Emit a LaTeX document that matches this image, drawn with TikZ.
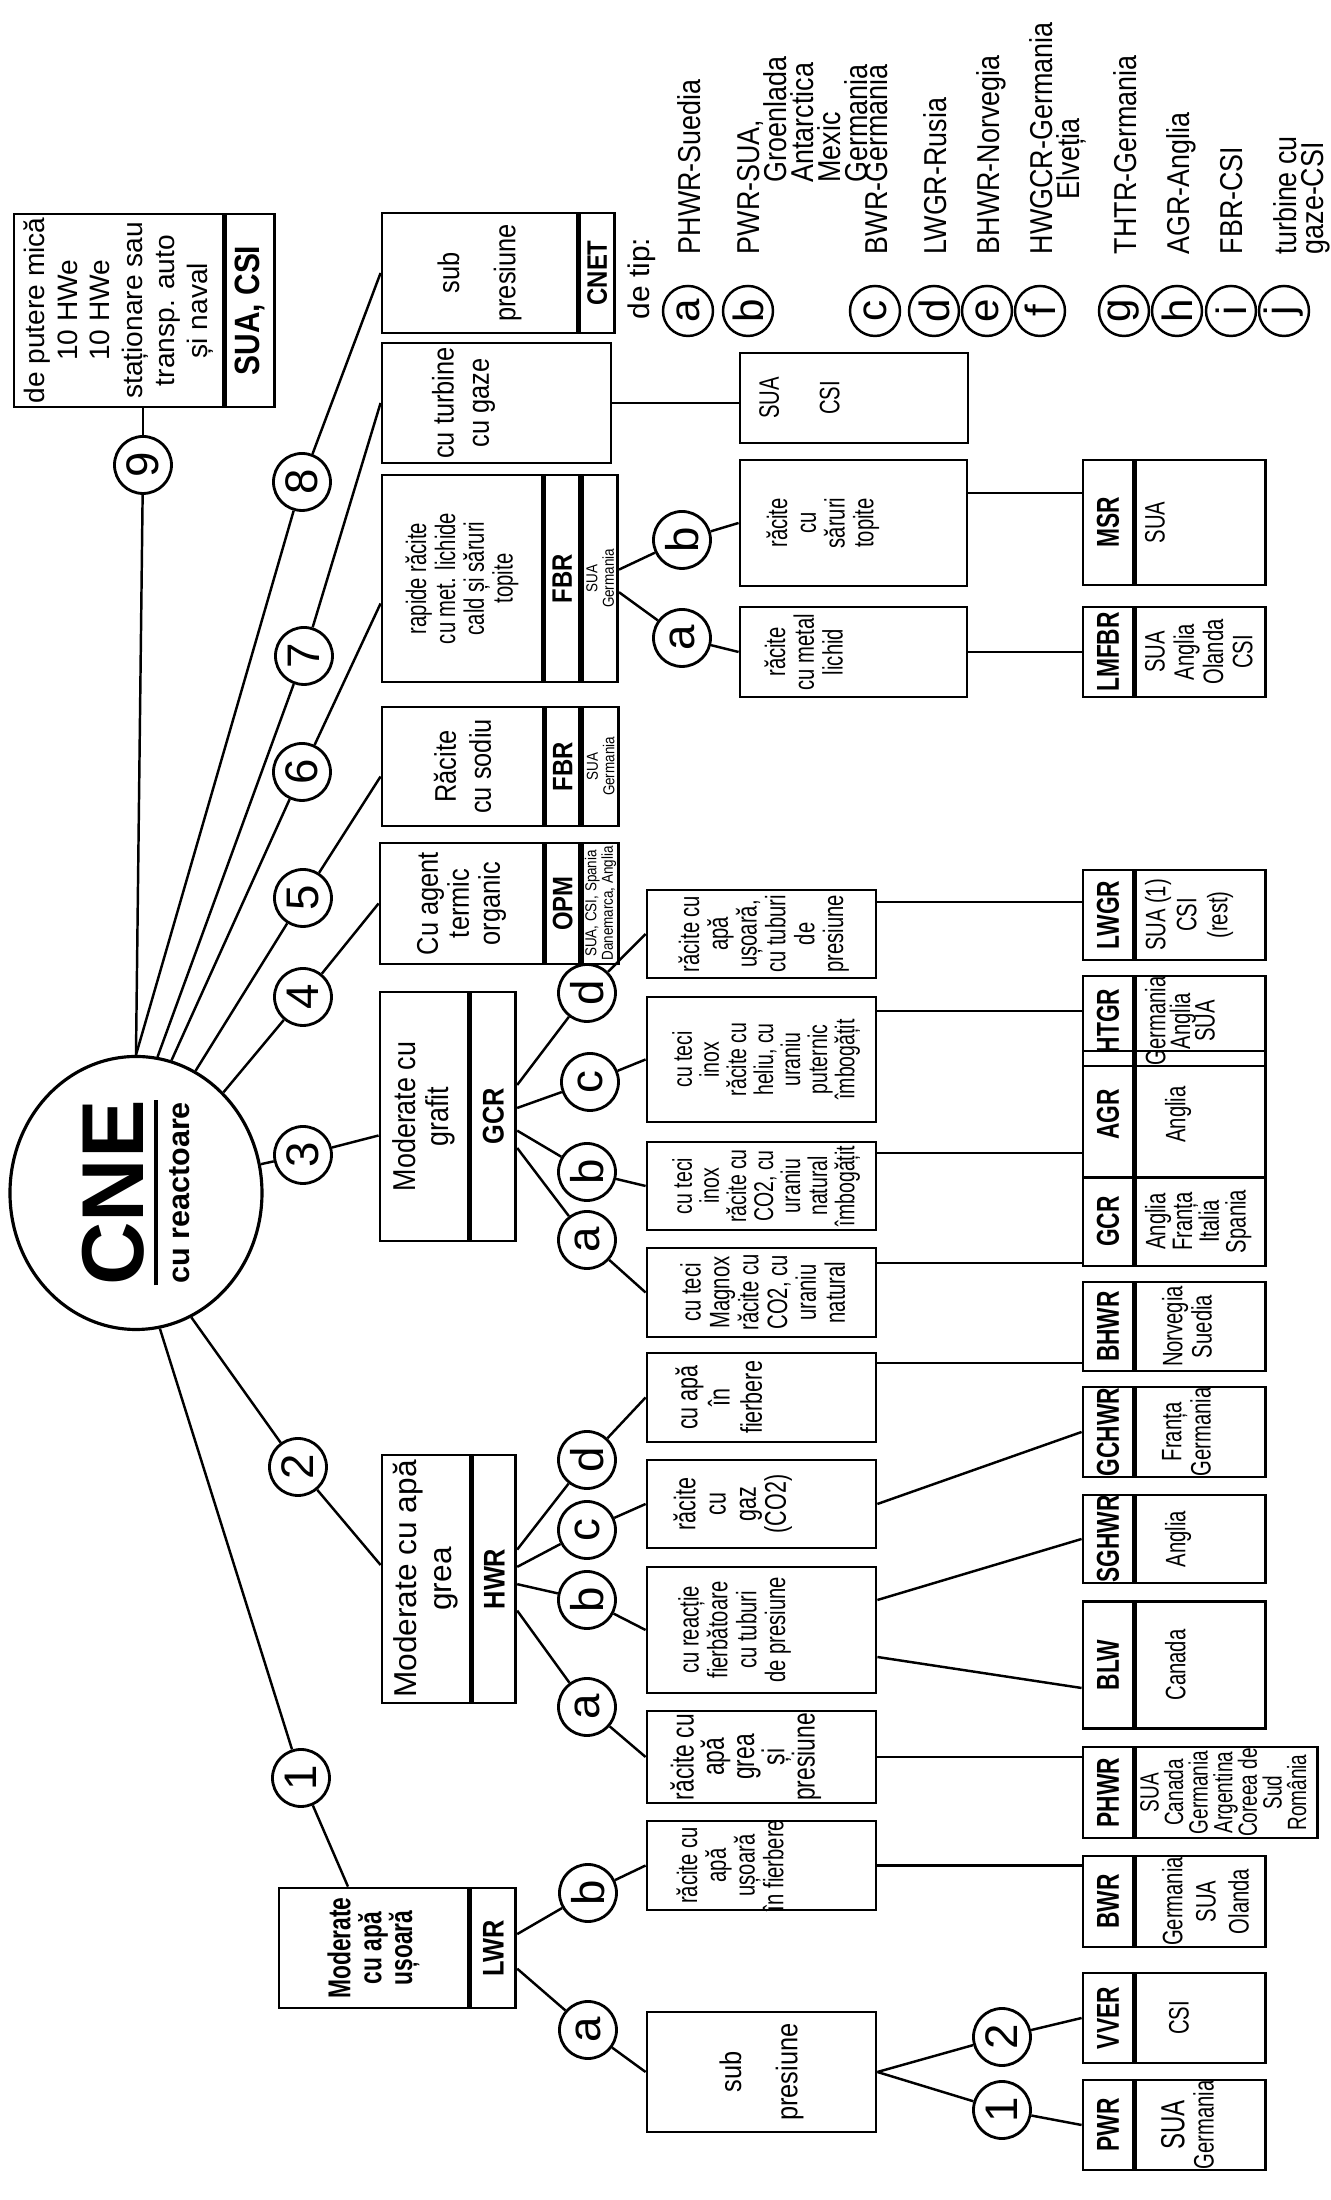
\documentclass[tikz,border=0pt]{standalone}
\usepackage{fontspec}
\setmainfont{Liberation Sans}
\newfontfamily\cnnarrow{Liberation Sans}[FakeStretch=0.85]
\newfontfamily\cnnarrower{Liberation Sans}[FakeStretch=0.72]
\usetikzlibrary{positioning,shapes.geometric,calc}
\lineskiplimit=-10pt
\tikzset{
  hub/.style={ellipse,draw,line width=0.9pt,minimum width=2.73cm,minimum height=2.52cm,
              inner sep=0pt,align=center,font=\fontsize{8.7}{10}\selectfont\bfseries},
  num/.style={circle,draw,line width=0.8pt,minimum size=0.57cm,inner sep=0pt,
              font=\fontsize{13}{13}\selectfont},
  tag/.style={circle,draw,line width=0.7pt,minimum size=0.5cm,inner sep=0pt,
              font=\fontsize{12}{12}\selectfont},
  hdr/.style={draw,line width=0.8pt,align=center,inner sep=0pt,
              font=\fontsize{8.5}{10}\selectfont\cnnarrow},
  strip/.style={draw,line width=0.8pt,align=center,inner sep=0pt,
                font=\fontsize{8}{8}\selectfont\cnnarrow\bfseries},
  tinystrip/.style={draw,line width=0.8pt,align=center,inner sep=0pt,
                    font=\fontsize{4.5}{4.7}\selectfont\cnnarrow},
  leaf/.style={draw,line width=0.8pt,minimum height=2.29cm,inner sep=0pt,align=center,
               font=\fontsize{8.5}{10}\selectfont\cnnarrow},
  leaftxt/.style={align=center,inner sep=0pt,font=\fontsize{8}{8.2}\selectfont\cnnarrower},
  kind/.style={draw,line width=0.8pt,minimum height=0.5cm,inner sep=0pt,
               font=\fontsize{9}{9}\selectfont\cnnarrower\bfseries},
  land/.style={draw,line width=0.8pt,minimum height=1.3cm,inner sep=0pt},
  landtxt/.style={align=center,inner sep=0pt,font=\fontsize{8}{8.3}\selectfont\cnnarrower},
  link/.style={line width=0.7pt},
  keytxt/.style={anchor=north west,align=left,inner sep=0pt,
                 font=\fontsize{9}{7.7}\selectfont\cnnarrow}
}
\begin{document}
\begin{tikzpicture}[rotate=90,transform shape]
\useasboundingbox (0,0) rectangle (22,13.3);

% centre of the tree
\node[hub] (cne) at (10.07,11.94) {{\fontsize{25}{25}\selectfont CNE}\\[-6pt]\rule{1.85cm}{1.2pt}\\[-1pt]cu reactoare};

% reactor families
\node[num] (n1) at (4.22,10.29) {1};
\node[num] (n2) at (7.33,10.32) {2};
\node[num] (n3) at (10.45,10.27) {3};
\node[num] (n4) at (12.03,10.27) {4};
\node[num] (n5) at (13.02,10.27) {5};
\node[num] (n6) at (14.28,10.28) {6};
\node[num] (n7) at (15.44,10.26) {7};
\node[num] (n8) at (17.18,10.28) {8};
\node[num] (n9) at (17.35,11.87) {9};

\node[hdr,minimum width=1.2cm,minimum height=1.89cm,font=\fontsize{9}{8.8}\selectfont\cnnarrower\bfseries] (b1) at (2.52,9.565) {Moderate\\cu apă\\ușoară};
\node[strip,minimum width=1.2cm,minimum height=0.45cm,font=\fontsize{8.5}{8.5}\selectfont\cnnarrow\bfseries,below=0pt of b1] (lwr) {LWR};
\node[hdr,minimum width=2.48cm,minimum height=0.88cm,font=\fontsize{9}{10}\selectfont] (b2) at (6.21,9.04) {Moderate cu apă\\grea};
\node[strip,minimum width=2.48cm,minimum height=0.43cm,font=\fontsize{8.5}{8.5}\selectfont\cnnarrow\bfseries,below=0pt of b2] (hwr) {HWR};
\node[hdr,minimum width=2.49cm,minimum height=0.88cm,font=\fontsize{9}{9.4}\selectfont\cnnarrow] (b3) at (10.835,9.06) {Moderate cu\\grafit};
\node[strip,minimum width=2.49cm,minimum height=0.45cm,font=\fontsize{8.5}{8.5}\selectfont\cnnarrow\bfseries,below=0pt of b3] (gcr) {GCR};
\node[hdr,minimum width=1.21cm,minimum height=1.63cm,font=\fontsize{8.5}{8.8}\selectfont\cnnarrow] (b4) at (12.965,8.685) {Cu agent\\termic\\organic};
\node[strip,minimum width=1.21cm,minimum height=0.34cm,below=0pt of b4] (opm) {OPM};
\node[tinystrip,minimum width=1.21cm,minimum height=0.36cm,below=0pt of opm] (b4g) {SUA, CSI, Spania\\Danemarca, Anglia};
\node[hdr,minimum width=1.19cm,minimum height=1.61cm] (b5) at (14.335,8.675) {Răcite\\cu sodiu};
\node[strip,minimum width=1.19cm,minimum height=0.34cm,below=0pt of b5] (fbr5) {FBR};
\node[tinystrip,minimum width=1.19cm,minimum height=0.36cm,below=0pt of fbr5] (b5g) {SUA\\Germania};
\node[hdr,minimum width=2.07cm,minimum height=1.6cm,font=\fontsize{8}{8.2}\selectfont\cnnarrower] (b6) at (16.215,8.68) {rapide răcite\\cu met. lichide\\cald și săruri\\topite};
\node[strip,minimum width=2.07cm,minimum height=0.35cm,below=0pt of b6] (fbr6) {FBR};
\node[tinystrip,minimum width=2.07cm,minimum height=0.35cm,below=0pt of fbr6] (b6g) {SUA\\Germania};
\node[hdr,minimum width=1.2cm,minimum height=2.29cm] (b7) at (17.97,8.335) {};
\node[hdr,draw=none,below=0.5cm of b7.north] (b7t) {cu turbine\\cu gaze};
\node[hdr,minimum width=1.2cm,minimum height=1.95cm] (b8) at (19.27,8.505) {sub\\[6pt]presiune};
\node[strip,minimum width=1.2cm,minimum height=0.35cm,below=0pt of b8] (cnet) {CNET};
\node[hdr,minimum width=1.93cm,minimum height=2.09cm,font=\fontsize{8}{9.25}\selectfont] (b9) at (18.895,12.115) {de putere mică\\10 HWe\\10 HWe\\staționare sau\\transp. auto\\și naval};
\node[strip,minimum width=1.93cm,minimum height=0.49cm,font=\fontsize{10}{10}\selectfont\cnnarrow\bfseries,below=0pt of b9] (b9s) {SUA, CSI};

\draw[link] (cne.east) -- (n9); \draw[link] (n9) -- (b9.west |- n9);
\draw[link] (cne.east) -- (n8); \draw[link] (n8) -- (b8.north);
\draw[link] (cne.-9) -- (n7);   \draw[link] (n7) -- (b7.north);
\coordinate (e6) at ($(b6.north)+(-0.25,0)$);
\draw[link] (cne.-15) -- (n6);  \draw[link] (n6) -- (e6);
\coordinate (e5) at ($(b5.north)+(-0.1,0)$);
\draw[link] (cne.-26) -- (n5);  \draw[link] (n5) -- (e5);
\draw[link] (cne.-41) -- (n4);  \draw[link] (n4) -- (b4.north);
\coordinate (e3) at ($(b3.north)+(-0.19,0)$);
\draw[link] (cne.-77) -- (n3);  \draw[link] (n3) -- (e3);
\coordinate (e2) at ($(b2.north)+(0.14,0)$);
\draw[link] (cne.-156) -- (n2); \draw[link] (n2) -- (e2);
\coordinate (e1) at ($(b1.east)+(0,0.255)$);
\draw[link] (cne.-170) -- (n1); \draw[link] (n1) -- (e1);

% sub-types
\node[num] (la) at (1.70,7.42) {a};
\node[num] (lb) at (3.07,7.42) {b};
\node[num] (ha) at (4.93,7.43) {a};
\node[num] (hb) at (6.00,7.43) {b};
\node[num] (hc) at (6.70,7.43) {c};
\node[num] (hd) at (7.40,7.43) {d};
\node[num] (ga) at (9.60,7.43) {a};
\node[num] (gb) at (10.28,7.43) {b};
\node[num] (gc) at (11.18,7.40) {c};
\node[num] (gd) at (12.07,7.43) {d};
\node[num] (fa) at (15.62,6.48) {a};
\node[num] (fb) at (16.60,6.48) {b};

\node[leaf,minimum width=1.2cm] (b1a) at (1.28,5.685) {sub\\[6pt]presiune};
\node[leaf,minimum width=0.89cm] (b1b) at (3.345,5.685) {};
\node[leaftxt,below=0.3cm of b1b.north] (b1bt) {răcite cu\\apă\\ușoară\\în fierbere};
\node[leaf,minimum width=0.92cm] (b2a) at (4.43,5.685) {};
\node[leaftxt,font=\fontsize{9}{8.6}\selectfont\cnnarrower,below=0.24cm of b2a.north] (b2at) {răcite cu\\apă\\grea\\și\\presiune};
\node[leaf,minimum width=1.26cm] (b2b) at (5.70,5.685) {};
\node[leaftxt,below=0.32cm of b2b.north] (b2bt) {cu reacție\\fierbătoare\\cu tuburi\\de presiune};
\node[leaf,minimum width=0.88cm] (b2c) at (6.96,5.685) {};
\node[leaftxt,font=\fontsize{8.5}{8.6}\selectfont\cnnarrower,below=0.27cm of b2c.north] (b2ct) {răcite\\cu\\gaz\\(CO2)};
\node[leaf,minimum width=0.89cm] (b2d) at (8.025,5.685) {};
\node[leaftxt,font=\fontsize{8.5}{9.2}\selectfont\cnnarrower,below=0.29cm of b2d.north] (b2dt) {cu apă\\în\\fierbere};
\node[leaf,minimum width=0.89cm] (b3a) at (9.075,5.685) {};
\node[leaftxt,below=0.34cm of b3a.north] (b3at) {cu teci\\Magnox\\răcite cu\\CO2, cu\\uraniu\\natural};
\node[leaf,minimum width=0.88cm] (b3b) at (10.14,5.685) {};
\node[leaftxt,font=\fontsize{7.7}{7.7}\selectfont\cnnarrower,below=0.26cm of b3b.north] (b3bt) {cu teci\\inox\\răcite cu\\CO2, cu\\uraniu\\natural\\îmbogățit};
\node[leaf,minimum width=1.25cm] (b3c) at (11.405,5.685) {};
\node[leaftxt,font=\fontsize{7.7}{7.7}\selectfont\cnnarrower,below=0.26cm of b3c.north] (b3ct) {cu teci\\inox\\răcite cu\\heliu, cu\\uraniu\\puternic\\îmbogățit};
\node[leaf,minimum width=0.88cm] (b3d) at (12.66,5.685) {};
\node[leaftxt,below=0.32cm of b3d.north] (b3dt) {răcite cu\\apă\\ușoară,\\cu tuburi\\de\\presiune};
\node[leaf,minimum width=0.9cm,minimum height=2.27cm] (b6a) at (15.48,4.765) {};
\node[leaftxt,below=0.25cm of b6a.north] (b6at) {răcite\\cu metal\\lichid};
\node[leaf,minimum width=1.26cm,minimum height=2.27cm] (b6b) at (16.77,4.765) {};
\node[leaftxt,below=0.27cm of b6b.north] (b6bt) {răcite\\cu\\săruri\\topite};
\node[leaf,minimum width=0.9cm,minimum height=2.28cm] (b7a) at (18.02,4.76) {};
\node[leaftxt,below=0.2cm of b7a.north] (b7at) {SUA\\[9pt]CSI};

\draw[link] (lwr) -- (la); \draw[link] (lwr) -- (lb);
\draw[link] (la) -- (b1a.north); \draw[link] (lb) -- (b1b.north);
\draw[link] (hwr) -- (ha); \draw[link] (hwr) -- (hb); \draw[link] (hwr) -- (hc); \draw[link] (hwr) -- (hd);
\draw[link] (ha) -- (b2a.north); \draw[link] (hb) -- (b2b.north);
\draw[link] (hc) -- (b2c.north); \draw[link] (hd) -- (b2d.north);
\draw[link] (gcr) -- (ga); \draw[link] (gcr) -- (gb); \draw[link] (gcr) -- (gc); \draw[link] (gcr) -- (gd);
\draw[link] (ga) -- (b3a.north); \draw[link] (gb) -- (b3b.north);
\draw[link] (gc) -- (b3c.north); \draw[link] (gd) -- (b3d.north);
\draw[link] (b6g) -- (fa); \draw[link] (b6g) -- (fb);
\draw[link] (fa) -- (b6a.north); \draw[link] (fb) -- (b6b.north);
\draw[link] (b7.south) -- (b7.south |- b7a.north);

% reactor types and countries
\node[num] (m1) at (0.90,3.28) {1};
\node[num] (m2) at (1.63,3.28) {2};

\node[kind,minimum width=0.9cm] (pwr) at (0.75,2.22) {PWR};
\node[land,minimum width=0.9cm,below=0pt of pwr] (pwrc) {};
\node[landtxt,below=0.26cm of pwr.south] (pwrt) {{\fontsize{9.5}{9.5}\selectfont SUA}\\Germania};
\node[kind,minimum width=0.9cm] (vver) at (1.82,2.22) {VVER};
\node[land,minimum width=0.9cm,below=0pt of vver] (vverc) {};
\node[landtxt,below=0.34cm of vver.south] (vvert) {CSI};
\node[kind,minimum width=0.91cm] (bwr) at (2.985,2.22) {BWR};
\node[land,minimum width=0.91cm,below=0pt of bwr] (bwrc) {};
\node[landtxt,font=\fontsize{8}{9.4}\selectfont\cnnarrower,below=0.27cm of bwr.south] (bwrt) {Germania\\SUA\\Olanda};
\node[kind,minimum width=0.91cm] (phwr) at (4.075,2.22) {PHWR};
\node[land,minimum width=0.91cm,minimum height=1.82cm,below=0pt of phwr] (phwrc) {};
\node[landtxt,font=\fontsize{7.5}{7}\selectfont\cnnarrower,below=0.05cm of phwr.south] (phwrt) {SUA\\Canada\\Germania\\Argentina\\Coreea de\\Sud\\România};
\node[kind,minimum width=1.27cm] (blw) at (5.35,2.22) {BLW};
\node[land,minimum width=1.27cm,below=0pt of blw] (blwc) {};
\node[landtxt,below=0.3cm of blw.south] (blwt) {Canada};
\node[kind,minimum width=0.88cm] (sghwr) at (6.61,2.22) {SGHWR};
\node[land,minimum width=0.88cm,below=0pt of sghwr] (sghwrc) {};
\node[landtxt,below=0.3cm of sghwr.south] (sghwrt) {Anglia};
\node[kind,minimum width=0.9cm] (gchwr) at (7.68,2.22) {GCHWR};
\node[land,minimum width=0.9cm,below=0pt of gchwr] (gchwrc) {};
\node[landtxt,below=0.27cm of gchwr.south] (gchwrt) {Franța\\Germania};
\node[kind,minimum width=0.89cm] (bhwr) at (8.735,2.22) {BHWR};
\node[land,minimum width=0.89cm,below=0pt of bhwr] (bhwrc) {};
\node[landtxt,below=0.27cm of bhwr.south] (bhwrt) {Norvegia\\Suedia};
\node[kind,minimum width=0.89cm] (gcrk) at (9.785,2.22) {GCR};
\node[land,minimum width=0.89cm,below=0pt of gcrk] (gcrkc) {};
\node[landtxt,font=\fontsize{8}{7.6}\selectfont\cnnarrower,below=0.1cm of gcrk.south] (gcrkt) {Anglia\\Franța\\Italia\\Spania};
\node[kind,minimum width=1.27cm] (agr) at (10.855,2.22) {AGR};
\node[land,minimum width=1.27cm,below=0pt of agr] (agrc) {};
\node[landtxt,below=0.3cm of agr.south] (agrt) {Anglia};
\node[kind,minimum width=0.9cm] (htgr) at (11.79,2.22) {HTGR};
\node[land,minimum width=0.9cm,below=0pt of htgr] (htgrc) {};
\node[landtxt,font=\fontsize{8}{7}\selectfont\cnnarrower,below=0.1cm of htgr.south] (htgrt) {Germania\\Anglia\\SUA};
\node[kind,minimum width=0.9cm] (lwgr) at (12.85,2.22) {LWGR};
\node[land,minimum width=0.9cm,below=0pt of lwgr] (lwgrc) {};
\node[landtxt,font=\fontsize{8}{8.8}\selectfont\cnnarrower,below=0.1cm of lwgr.south] (lwgrt) {SUA (1)\\CSI\\(rest)};
\node[kind,minimum width=0.9cm] (lmfbr) at (15.48,2.22) {LMFBR};
\node[land,minimum width=0.9cm,below=0pt of lmfbr] (lmfbrc) {};
\node[landtxt,below=0.1cm of lmfbr.south] (lmfbrt) {SUA\\Anglia\\Olanda\\CSI};
\node[kind,minimum width=1.25cm] (msr) at (16.775,2.22) {MSR};
\node[land,minimum width=1.25cm,below=0pt of msr] (msrc) {};
\node[landtxt,below=0.1cm of msr.south] (msrt) {SUA};

\draw[link] (b1a.south) -- (m1); \draw[link] (b1a.south) -- (m2);
\draw[link] (m1) -- (pwr.north); \draw[link] (m2) -- (vver.north);
\draw[link] (b1b.south) -- (b1b.south |- bwr.north);
\draw[link] (b2a.south) -- (b2a.south |- phwr.north);
\coordinate (s1) at ($(b2b.south)+(-0.27,0)$);
\coordinate (t1) at ($(blw.north)+(-0.23,0)$);
\draw[link] (s1) -- (t1);
\coordinate (s2) at ($(b2b.south)+(0.30,0)$);
\draw[link] (s2) -- (sghwr.north);
\draw[link] (b2c.south) -- (gchwr.north);
\coordinate (s3) at ($(b2d.south)+(0.345,0)$);
\draw[link] (s3) -- (s3 |- bhwr.north);
\coordinate (s4) at ($(b3a.south)+(0.295,0)$);
\draw[link] (s4) -- (s4 |- gcrk.north);
\coordinate (s5) at ($(b3b.south)+(0.33,0)$);
\draw[link] (s5) -- (s5 |- agr.north);
\coordinate (s6) at ($(b3c.south)+(0.485,0)$);
\draw[link] (s6) -- (s6 |- htgr.north);
\coordinate (s7) at ($(b3d.south)+(0.32,0)$);
\draw[link] (s7) -- (s7 |- lwgr.north);
\draw[link] (b6a.south) -- (b6a.south |- lmfbr.north);
\coordinate (s8) at ($(b6b.south)+(0.30,0)$);
\draw[link] (s8) -- (s8 |- msr.north);

% legend
\node[anchor=west,inner sep=0pt,font=\fontsize{8.5}{9}\selectfont] (detip) at (18.80,6.885) {de tip:};
\node[tag] (ka) at (18.89,6.42) {a}; \node[keytxt] (kat) at (19.45,6.535) {PHWR-Suedia};
\node[tag] (kb) at (18.89,5.82) {b}; \node[keytxt] (kbt) at (19.45,5.935) {PWR-SUA,\\\phantom{PWR-}Groenlada\\\phantom{PWR-}Antarctica\\\phantom{PWR-}Mexic\\\phantom{PWR-}Germania};
\node[tag] (kc) at (18.89,4.55) {c}; \node[keytxt] (kct) at (19.45,4.665) {BWR-Germania};
\node[tag] (kd) at (18.89,3.96) {d}; \node[keytxt] (kdt) at (19.45,4.075) {LWGR-Rusia};
\node[tag] (ke) at (18.89,3.43) {e}; \node[keytxt] (ket) at (19.45,3.545) {BHWR-Norvegia};
\node[tag] (kf) at (18.89,2.90) {f}; \node[keytxt] (kft) at (19.45,3.015) {HWGCR-Germania\\\hspace*{0.55cm}Elveția};
\node[tag] (kg) at (18.89,2.06) {g}; \node[keytxt] (kgt) at (19.45,2.175) {THTR-Germania};
\node[tag] (kh) at (18.89,1.53) {h}; \node[keytxt] (kht) at (19.45,1.645) {AGR-Anglia};
\node[tag] (ki) at (18.89,0.99) {i}; \node[keytxt] (kit) at (19.45,1.105) {FBR-CSI};
\node[tag] (kj) at (18.89,0.46) {j}; \node[keytxt] (kjt) at (19.45,0.575) {turbine cu\\gaze-CSI};
\end{tikzpicture}
\end{document}
